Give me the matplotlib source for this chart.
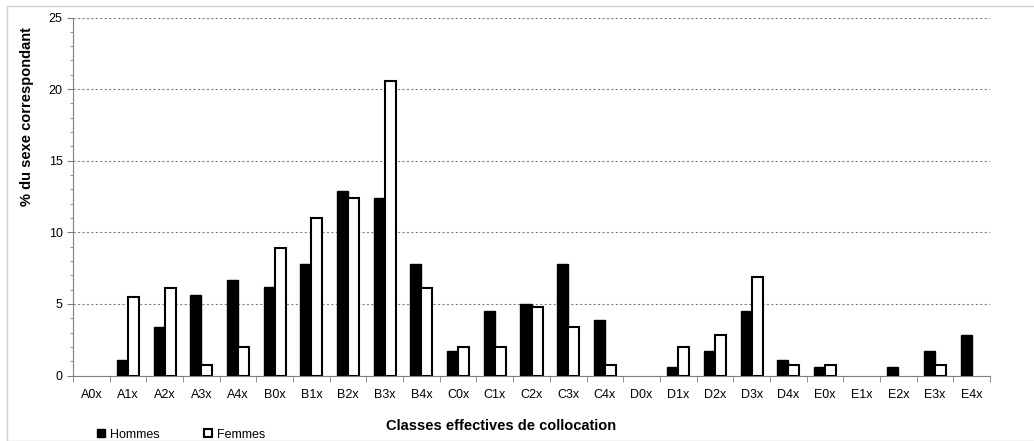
import numpy as np
import matplotlib.pyplot as plt
from matplotlib.patches import Rectangle

plt.rcParams['font.family'] = ['Liberation Sans', 'DejaVu Sans']

# Classes and percentages
classes = ['A0x', 'A1x', 'A2x', 'A3x', 'A4x',
           'B0x', 'B1x', 'B2x', 'B3x', 'B4x',
           'C0x', 'C1x', 'C2x', 'C3x', 'C4x',
           'D0x', 'D1x', 'D2x', 'D3x', 'D4x',
           'E0x', 'E1x', 'E2x', 'E3x', 'E4x']
hommes = [0, 1.1, 3.4, 5.6, 6.7,
          6.2, 7.8, 12.9, 12.4, 7.8,
          1.7, 4.5, 5.0, 7.8, 3.9,
          0, 0.6, 1.7, 4.5, 1.1,
          0.6, 0, 0.6, 1.7, 2.8]
femmes = [0, 5.5, 6.1, 0.7, 2.0,
          8.9, 11.0, 12.4, 20.6, 6.1,
          2.0, 2.0, 4.8, 3.4, 0.7,
          0, 2.0, 2.8, 6.9, 0.7,
          0.7, 0, 0, 0.7, 0]

fig = plt.figure(figsize=(10.34, 4.41), dpi=100)
ax = fig.add_axes([73/1034, 1 - 375.5/441, 917/1034, 358/441])

x = np.arange(len(classes))
h = np.array(hommes)
f = np.array(femmes)
w = 0.3
# empty classes get no bar at all (no outline on the baseline)
ax.bar(x[h > 0] - w/2, h[h > 0], w, color='black', edgecolor='black', linewidth=1,
       label='Hommes', zorder=3)
ax.bar(x[f > 0] + w/2, f[f > 0], w, color='white', edgecolor='black', linewidth=1.5,
       label='Femmes', zorder=3)

ax.set_xlim(-0.5, len(classes) - 0.5)
ax.set_ylim(0, 25)
ax.set_yticks(range(0, 26, 5))
ax.set_yticks(range(0, 26), minor=True)
ax.yaxis.grid(True, linestyle=(0, (2, 2)), color='#808080', linewidth=0.8)
ax.set_axisbelow(True)

ax.set_xticks(x)
ax.set_xticklabels(classes, fontsize=9)
ax.set_xticks(np.arange(-0.5, len(classes)), minor=True)
ax.tick_params(axis='x', which='major', length=0, pad=10)
ax.tick_params(axis='x', which='minor', length=4, color='#808080', direction='out')
ax.tick_params(axis='y', which='major', length=4, color='#808080', labelsize=9)
ax.tick_params(axis='y', which='minor', length=2, color='#808080')

for s in ['top', 'right']:
    ax.spines[s].set_visible(False)
ax.spines['left'].set_color('#808080')
ax.spines['bottom'].set_color('#808080')

fig.text(27/1034, 1 - 117/441, '% du sexe correspondant', rotation=90, fontsize=10.5,
         fontweight='bold', ha='center', va='center')
fig.text(501/1034, 1 - 426/441, 'Classes effectives de collocation', fontsize=10.5,
         fontweight='bold', ha='center', va='center')

leg = fig.legend(loc='lower left', bbox_to_anchor=(86/1034, -0.025), ncol=2, frameon=False,
                 fontsize=9, handlelength=0.6, handleheight=0.6, columnspacing=3.6,
                 handletextpad=0.4)

fig.patches.append(Rectangle((7/1034, 0), 1, 1 - 6/441, transform=fig.transFigure,
                             fill=False, edgecolor='#d0d0d0', linewidth=1))

fig.savefig('out.png', dpi=100)
